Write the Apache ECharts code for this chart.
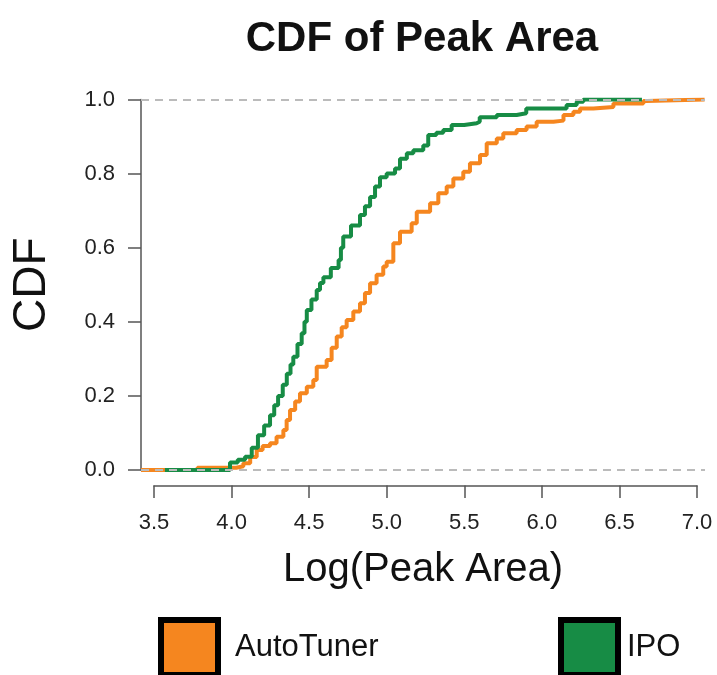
<!DOCTYPE html>
<html>
<head>
<meta charset="utf-8">
<script src="https://cdn.jsdelivr.net/npm/echarts@6/dist/echarts.min.js"></script>
<style>html,body{margin:0;padding:0;background:#fff}#c{width:717px;height:675px}</style>
</head>
<body>
<div id="c"></div>
<script>
// ---- data ----
const seriesNames = ['AutoTuner', 'IPO'];
const autoTunerX = [3.416,3.78,4.03,4.076,4.12,4.162,4.2,4.248,4.29,4.334,4.355,4.377,4.41,4.441,4.485,4.527,4.549,4.613,4.645,4.678,4.71,4.742,4.785,4.828,4.86,4.893,4.935,4.978,5.0,5.043,5.086,5.161,5.194,5.28,5.333,5.387,5.43,5.494,5.537,5.602,5.645,5.71,5.752,5.838,5.902,5.967,6.075,6.14,6.204,6.247,6.333,6.462,6.655,6.676,7.05];
const autoTunerY = [0,0.006,0.01,0.018,0.035,0.054,0.065,0.072,0.09,0.108,0.135,0.162,0.185,0.207,0.225,0.243,0.279,0.297,0.33,0.36,0.385,0.405,0.428,0.45,0.478,0.504,0.527,0.549,0.562,0.612,0.643,0.666,0.697,0.72,0.747,0.765,0.787,0.805,0.828,0.85,0.882,0.895,0.909,0.918,0.927,0.94,0.943,0.958,0.967,0.976,0.98,0.989,0.996,1.0,1.0];
const ipoX = [3.57,3.945,3.99,4.04,4.087,4.13,4.17,4.21,4.248,4.275,4.30,4.33,4.356,4.38,4.398,4.425,4.452,4.47,4.485,4.515,4.549,4.57,4.592,4.64,4.69,4.705,4.72,4.77,4.828,4.86,4.893,4.925,4.957,5.0,5.054,5.086,5.13,5.172,5.236,5.268,5.32,5.365,5.419,5.5,5.58,5.6,5.71,5.838,5.9,6.075,6.16,6.225,6.268,6.646];
const ipoY = [0,0,0.02,0.028,0.036,0.06,0.094,0.12,0.148,0.175,0.2,0.23,0.26,0.285,0.306,0.34,0.369,0.40,0.432,0.46,0.486,0.505,0.52,0.545,0.567,0.6,0.63,0.66,0.688,0.712,0.737,0.765,0.79,0.8,0.814,0.84,0.855,0.863,0.876,0.904,0.91,0.918,0.931,0.936,0.94,0.952,0.958,0.963,0.976,0.976,0.985,0.994,1.0,1.0];
const xTicks = [3.5, 7.0, 0.5];   // min, max, step of drawn x axis
const yTicks = [0, 1, 0.2];       // min, max, step of y axis
const refLines = [0, 1];
const colors = ['#F5861F', '#178C45'];

const zip = (xs, ys) => xs.map((x, i) => [x, ys[i]]);
const FONT = '"Liberation Sans", Arial, Helvetica, sans-serif';
const axisCol = '#555';

const chart = echarts.init(document.getElementById('c'), null, {renderer: 'canvas'});
chart.setOption({
  animation: false,
  backgroundColor: '#fff',
  title: {
    text: 'CDF of Peak Area',
    left: 422, top: 18, padding: 0, textAlign: 'center',
    textStyle: {fontFamily: FONT, fontSize: 42, fontWeight: 'bold', color: '#111'}
  },
  legend: [
    {data: [seriesNames[0]], left: 158, top: 617, padding: 0, icon: 'rect', itemWidth: 57, itemHeight: 55,
     itemStyle: {borderColor: '#000', borderWidth: 6},
     textStyle: {fontFamily: FONT, fontSize: 31, color: '#111', padding: [0, 0, 0, 12]}},
    {data: [seriesNames[1]], left: 558, top: 617, padding: 0, icon: 'rect', itemWidth: 57, itemHeight: 55,
     itemStyle: {borderColor: '#000', borderWidth: 6},
     textStyle: {fontFamily: FONT, fontSize: 31, color: '#111', padding: [0, 0, 0, 4]}}
  ],
  grid: [
    {left: 141, right: 12, top: 99.5, bottom: 205},
    {left: 154, right: 20, top: 99.5, bottom: 205}
  ],
  xAxis: [
    {type: 'value', gridIndex: 0, min: 3.416, max: 7.0525,
     axisLine: {show: false}, axisTick: {show: false}, axisLabel: {show: false}, splitLine: {show: false},
     name: 'Log(Peak Area)', nameLocation: 'middle', nameGap: 80,
     nameTextStyle: {fontFamily: FONT, fontSize: 40, color: '#111'}},
    {type: 'value', gridIndex: 1, min: xTicks[0], max: xTicks[1], interval: xTicks[2], offset: 15.5,
     axisLine: {show: true, onZero: false, lineStyle: {color: axisCol, width: 1.5}},
     axisTick: {show: true, length: 12.5, lineStyle: {color: axisCol, width: 1.5}},
     axisLabel: {margin: 26, fontFamily: FONT, fontSize: 22, color: '#222', formatter: v => v.toFixed(1)},
     splitLine: {show: false}}
  ],
  yAxis: [
    {type: 'value', gridIndex: 0, min: yTicks[0], max: yTicks[1], interval: yTicks[2],
     axisLine: {show: true, onZero: false, lineStyle: {color: axisCol, width: 1.5}},
     axisTick: {show: true, length: 13, lineStyle: {color: axisCol, width: 1.5}},
     axisLabel: {margin: 26, fontFamily: FONT, fontSize: 22, color: '#222', formatter: v => v.toFixed(1)},
     splitLine: {show: false},
     name: 'CDF', nameLocation: 'middle', nameGap: 86, nameRotate: 90,
     nameTextStyle: {fontFamily: FONT, fontSize: 46, color: '#111'}},
    {type: 'value', gridIndex: 1, min: 0, max: 1, show: false}
  ],
  series: [
    {name: seriesNames[0], type: 'line', xAxisIndex: 0, yAxisIndex: 0, step: 'end', showSymbol: false,
     color: colors[0], lineStyle: {width: 4, color: colors[0]}, data: zip(autoTunerX, autoTunerY), z: 2},
    {name: seriesNames[1], type: 'line', xAxisIndex: 0, yAxisIndex: 0, step: 'end', showSymbol: false,
     color: colors[1], lineStyle: {width: 4, color: colors[1]}, data: zip(ipoX, ipoY), z: 3},
    {name: 'ref', type: 'line', xAxisIndex: 0, yAxisIndex: 0, data: [], z: 10, silent: true,
     markLine: {silent: true, symbol: ['none', 'none'], label: {show: false},
       lineStyle: {color: '#BBBBBB', type: [8, 6], width: 2},
       data: refLines.map(v => ({yAxis: v}))}}
  ]
});
</script>
</body>
</html>
